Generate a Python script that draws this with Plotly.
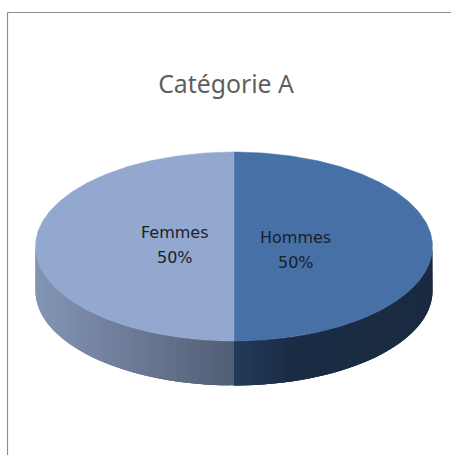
import numpy as np
import plotly.graph_objects as go

categories = ["Hommes", "Femmes"]
shares = [50, 50]
title_text = "Catégorie A"
top_colors = ["#4670A6", "#93A8CF"]
wall_stops = [
    [(0.0, "#233A59"), (0.3, "#1A2C43"), (1.0, "#1A2B41")],
    [(0.0, "#525E75"), (1.0, "#8495B5")],
]

W, H = 451, 455
cx_px, cy_px, r_px = 234.0, 246.5, 198.5
tilt = 94.5 / 198.5
depth = 44.5 / 198.5


def hex_rgb(h):
    return np.array([int(h[i:i + 2], 16) for i in (1, 3, 5)], float)


def wall_color(stops, t):
    ts = [s[0] for s in stops]
    rgb = [np.interp(t, ts, [hex_rgb(s[1])[k] for s in stops]) for k in range(3)]
    return "rgb(%d,%d,%d)" % tuple(round(v) for v in rgb)


fracs = np.cumsum([0] + shares) / sum(shares) * 2 * np.pi
fig = go.Figure()

# walls (front half only); each band runs under the following ones so no seams show
for i in range(len(shares)):
    a0, a1 = max(fracs[i], np.pi / 2), min(fracs[i + 1], 3 * np.pi / 2)
    edges = np.linspace(a0, a1, 60)
    for k in range(len(edges) - 1):
        b0, b1 = edges[k], edges[min(k + 3, len(edges) - 1)]
        arc = np.linspace(b0, b1, 8)
        xs = np.sin(arc)
        ys = tilt * np.cos(arc)
        px = np.r_[xs, xs[::-1], xs[0]]
        py = np.r_[ys, ys[::-1] - depth, ys[0]]
        t = abs(np.sin((edges[k] + edges[k + 1]) / 2))
        c = wall_color(wall_stops[i], t)
        fig.add_trace(go.Scatter(x=px, y=py, mode="lines", fill="toself", fillcolor=c,
                                 line=dict(width=0), hoverinfo="skip", showlegend=False))

# top faces
for i, name in enumerate(categories):
    arc = np.linspace(fracs[i], fracs[i + 1], 181)
    px = np.r_[0, np.sin(arc), 0]
    py = np.r_[0, tilt * np.cos(arc), 0]
    fig.add_trace(go.Scatter(x=px, y=py, mode="lines", fill="toself", fillcolor=top_colors[i],
                             line=dict(color=top_colors[i], width=0.5), name=name,
                             hoverinfo="name", showlegend=False))

label_pos = [(295.5, 249.5), (174.5, 244.5)]
annotations = []
for (lx, ly), name, s in zip(label_pos, categories, shares):
    for text, dy in ((name, -12.5), (f"{s}%", 12.5)):
        annotations.append(dict(
            x=(lx - cx_px) / r_px, y=(cy_px - ly - dy) / r_px, xref="x", yref="y",
            text=text, showarrow=False, align="center",
            font=dict(family="DejaVu Sans", size=16, color="#1A1E28")))

fig.update_layout(
    width=W, height=H, autosize=False,
    margin=dict(l=0, r=0, t=0, b=0),
    paper_bgcolor="white", plot_bgcolor="white",
    xaxis=dict(visible=False, range=[-cx_px / r_px, (W - cx_px) / r_px], fixedrange=True),
    yaxis=dict(visible=False, range=[(cy_px - H) / r_px, cy_px / r_px], fixedrange=True),
    title=dict(text=title_text, x=226 / W, xanchor="center", y=1 - 84 / H, yanchor="middle",
               font=dict(family="Noto Sans", size=24.8, color="#5F5F5F")),
    annotations=annotations,
    shapes=[
        dict(type="line", xref="paper", yref="paper", x0=7.5 / W, x1=1, y0=1 - 12.5 / H, y1=1 - 12.5 / H,
             line=dict(color="#8F8F8F", width=1.2)),
        dict(type="line", xref="paper", yref="paper", x0=7.5 / W, x1=7.5 / W, y0=0, y1=1 - 12.5 / H,
             line=dict(color="#8F8F8F", width=1.2)),
    ],
)
fig.write_html("out.html", config=dict(displayModeBar=False),
               post_script="document.body.style.margin='0';document.documentElement.style.overflow='hidden';")
